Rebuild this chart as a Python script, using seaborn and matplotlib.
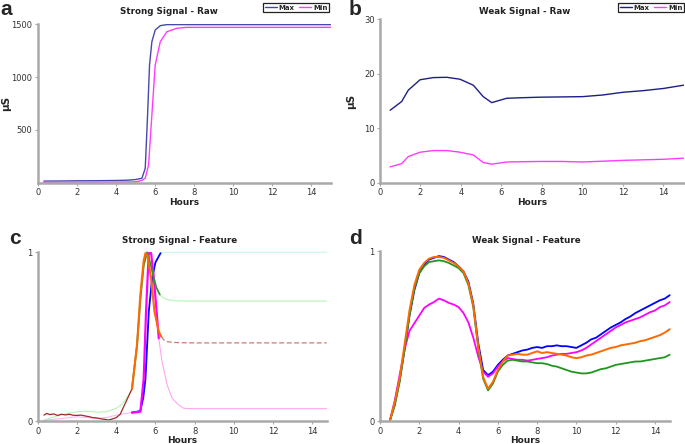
import matplotlib

matplotlib.use("Agg")
import matplotlib.pyplot as plt
import numpy as np
import seaborn as sns

# ---- panel a: strong signal, raw (uS) ----
A_MAX_HOURS = [0.3, 1.0, 2.0, 3.0, 4.0, 4.6, 5.0, 5.32, 5.49, 5.61, 5.71, 5.83,
               6.0, 6.26, 6.6, 8.0, 10.0, 12.0, 15.0]
A_MAX = [15, 16, 18, 19, 21, 24, 30, 42, 136, 641, 1115, 1335,
         1446, 1487, 1497, 1497, 1497, 1497, 1497]
A_MIN_HOURS = [0.3, 1.0, 2.0, 3.0, 4.0, 5.0, 5.3, 5.49, 5.66, 5.83, 6.0, 6.26,
               6.6, 7.1, 7.6, 9.0, 11.0, 13.0, 15.0]
A_MIN = [5, 5, 5, 5, 6, 8, 20, 42, 168, 641, 1115, 1335,
         1430, 1462, 1471, 1471, 1471, 1471, 1471]

# ---- panel b: weak signal, raw (uS) ----
B_HOURS = [0.5, 1.07, 1.4, 1.98, 2.64, 3.3, 3.95, 4.61, 5.1, 5.52, 6.26, 7.0,
           7.9, 9.0, 10.0, 11.0, 12.0, 13.0, 14.0, 15.0]
B_MAX = [13.3, 14.9, 17.0, 18.9, 19.3, 19.35, 19.0, 17.9, 15.8, 14.7, 15.5, 15.6,
         15.7, 15.75, 15.8, 16.1, 16.6, 16.9, 17.3, 17.9]
B_MIN = [2.9, 3.5, 4.8, 5.6, 5.9, 5.9, 5.6, 5.1, 3.7, 3.4, 3.8, 3.85,
         3.9, 3.9, 3.8, 3.95, 4.1, 4.2, 4.3, 4.5]

# ---- panel c: strong signal, feature (normalised) ----
C_PALE_GREEN_EARLY_H = [0.3, 0.7, 1.0, 1.5, 2.0, 2.5, 3.0, 3.5, 4.0, 4.3, 4.6, 4.8]
C_PALE_GREEN_EARLY = [0.005, 0.02, 0.03, 0.045, 0.055, 0.058, 0.052, 0.055, 0.075, 0.1, 0.15, 0.19]
C_PALE_GREEN_LATE_H = [6.22, 6.4, 6.6, 7.0, 8.0, 10.0, 12.0, 14.75]
C_PALE_GREEN_LATE = [0.75, 0.73, 0.72, 0.712, 0.711, 0.711, 0.711, 0.711]
C_PINK_EARLY_H = [0.3, 1.0, 2.0, 2.5, 3.0, 3.5, 4.0, 4.5, 4.8]
C_PINK_EARLY = [0.005, 0.012, 0.025, 0.02, 0.016, 0.02, 0.035, 0.045, 0.05]
C_PINK_LATE_H = [6.17, 6.34, 6.6, 6.85, 7.19, 7.45, 8.0, 10.0, 12.0, 14.75]
C_PINK_LATE = [0.49, 0.35, 0.213, 0.135, 0.095, 0.075, 0.073, 0.073, 0.073, 0.073]
C_CYAN_H = [6.26, 6.6, 8.0, 10.0, 12.0, 14.75]
C_CYAN = [0.995, 1.0, 1.0, 1.0, 1.0, 1.0]
C_BROWN_EARLY_H = [0.3, 0.45, 0.6, 0.8, 1.0, 1.2, 1.4, 1.6, 1.8, 2.0, 2.2, 2.4,
                   2.6, 2.8, 3.0, 3.2, 3.4, 3.6, 3.8, 4.0, 4.2, 4.4, 4.6, 4.8]
C_BROWN_EARLY = [0.035, 0.045, 0.038, 0.042, 0.033, 0.04, 0.036, 0.04, 0.034, 0.033, 0.035, 0.03,
                 0.026, 0.02, 0.018, 0.013, 0.01, 0.006, 0.012, 0.02, 0.04, 0.09, 0.14, 0.19]
C_BROWN_LATE_H = [6.3, 6.43, 6.6, 6.9, 7.3, 8.0, 10.0, 12.0, 14.75]
C_BROWN_LATE = [0.5, 0.48, 0.47, 0.466, 0.464, 0.463, 0.463, 0.463, 0.463]
C_BLUE_BASE_H = [5.55, 7.1]
C_BLUE_BASE = [0.0, 0.0]
C_BLUE_H = [4.8, 5.06, 5.23, 5.38, 5.49, 5.66, 5.83, 6.0, 6.26]
C_BLUE = [0.05, 0.055, 0.06, 0.14, 0.25, 0.648, 0.845, 0.94, 0.995]
C_MAGENTA_H = [4.8, 5.0, 5.23, 5.4, 5.52, 5.62, 5.66, 5.78, 5.92, 6.06, 6.17]
C_MAGENTA = [0.05, 0.052, 0.055, 0.25, 0.648, 0.9, 0.995, 0.995, 0.845, 0.648, 0.49]
C_GREEN_H = [4.8, 5.06, 5.23, 5.4, 5.57, 5.75, 5.92, 6.05, 6.22]
C_GREEN = [0.19, 0.45, 0.72, 0.92, 1.0, 0.93, 0.845, 0.79, 0.75]
C_ORANGE_H = [4.8, 5.06, 5.23, 5.4, 5.49, 5.6, 5.78, 5.95, 6.17, 6.3]
C_ORANGE = [0.19, 0.45, 0.75, 0.95, 0.995, 0.98, 0.845, 0.648, 0.53, 0.5]

# ---- panel d: weak signal, feature (sampled every 15 min from 0.5 h) ----
D_HOURS = np.arange(0.5, 14.76, 0.25)
D_BLUE = [0.00, 0.10, 0.24, 0.42, 0.62, 0.77, 0.87, 0.92,
          0.95, 0.96, 0.97, 0.965, 0.95, 0.935, 0.91, 0.88,
          0.82, 0.69, 0.46, 0.30, 0.27, 0.29, 0.33, 0.36,
          0.385, 0.395, 0.405, 0.415, 0.42, 0.43, 0.435, 0.43,
          0.44, 0.44, 0.445, 0.44, 0.44, 0.435, 0.43, 0.445,
          0.46, 0.48, 0.49, 0.51, 0.53, 0.55, 0.565, 0.58,
          0.60, 0.615, 0.635, 0.65, 0.665, 0.68, 0.695, 0.71,
          0.72, 0.74]
D_ORANGE = [0.00, 0.11, 0.25, 0.45, 0.65, 0.80, 0.89, 0.93,
            0.955, 0.965, 0.965, 0.96, 0.945, 0.93, 0.91, 0.88,
            0.81, 0.68, 0.44, 0.26, 0.19, 0.23, 0.30, 0.35,
            0.385, 0.39, 0.395, 0.39, 0.39, 0.40, 0.41, 0.40,
            0.405, 0.40, 0.395, 0.39, 0.385, 0.375, 0.37, 0.375,
            0.385, 0.39, 0.40, 0.41, 0.42, 0.43, 0.435, 0.445,
            0.45, 0.455, 0.46, 0.47, 0.475, 0.485, 0.495, 0.505,
            0.52, 0.54]
D_GREEN = [0.00, 0.09, 0.23, 0.42, 0.62, 0.78, 0.87, 0.91,
           0.935, 0.94, 0.945, 0.94, 0.93, 0.915, 0.90, 0.87,
           0.80, 0.67, 0.43, 0.25, 0.18, 0.22, 0.29, 0.33,
           0.355, 0.36, 0.355, 0.35, 0.35, 0.345, 0.34, 0.34,
           0.335, 0.325, 0.32, 0.31, 0.30, 0.29, 0.285, 0.28,
           0.28, 0.285, 0.295, 0.305, 0.31, 0.32, 0.33, 0.335,
           0.34, 0.345, 0.35, 0.35, 0.355, 0.36, 0.365, 0.37,
           0.375, 0.39]
D_MAGENTA = [0.00, 0.12, 0.27, 0.42, 0.53, 0.575, 0.62, 0.665,
             0.685, 0.70, 0.72, 0.71, 0.695, 0.685, 0.67, 0.635,
             0.58, 0.49, 0.38, 0.29, 0.26, 0.28, 0.32, 0.35,
             0.37, 0.365, 0.36, 0.36, 0.355, 0.36, 0.365, 0.37,
             0.375, 0.385, 0.39, 0.395, 0.395, 0.40, 0.405, 0.415,
             0.43, 0.45, 0.47, 0.49, 0.51, 0.53, 0.55, 0.565,
             0.58, 0.59, 0.60, 0.61, 0.625, 0.64, 0.65, 0.67,
             0.68, 0.70]

HOUR_TICKS = [0, 2, 4, 6, 8, 10, 12, 14]

sns.set_style("ticks")
plt.rcParams["font.family"] = ["DejaVu Sans"]

W, H = 685, 444
fig = plt.figure(figsize=(W / 100, H / 100), dpi=100)


def px_axes(left, top, right, bottom):
    return fig.add_axes([left / W, 1 - bottom / H, (right - left) / W, (bottom - top) / H])


def style(ax, xmax, ymax, yticks, xlabel_pad=0.5):
    ax.set_xlim(0, xmax)
    ax.set_ylim(0, ymax)
    ax.set_xticks(HOUR_TICKS)
    ax.set_yticks(yticks)
    sns.despine(ax=ax)
    for side in ("left", "bottom"):
        ax.spines[side].set_color("#a9a9a9")
        ax.spines[side].set_linewidth(1.8)
    ax.tick_params(colors="#a9a9a9", labelcolor="#333333", labelsize=6,
                   length=2.5, width=0.8, pad=1.5)
    ax.set_xlabel("Hours", fontsize=6.5, fontweight="bold", color="#222222",
                  labelpad=xlabel_pad)
    ax.grid(False)


def legend_box(ax, anchor):
    leg = ax.legend(loc="upper right", bbox_to_anchor=anchor, bbox_transform=fig.transFigure,
                    ncol=2, prop={"size": 5, "weight": "bold"}, frameon=True,
                    fancybox=False, framealpha=1, edgecolor="#222222",
                    handlelength=1.7, handletextpad=0.3, columnspacing=0.6,
                    borderpad=0.25, borderaxespad=0)
    leg.get_frame().set_linewidth(0.9)


def line(ax, x, y, color, lw=1.0, **kw):
    sns.lineplot(x=x, y=y, ax=ax, color=color, linewidth=lw, clip_on=False,
                 legend=False, **kw)


# panel a
ax_a = px_axes(38, 24.3, 331, 182.7)
sns.lineplot(x=A_MAX_HOURS, y=A_MAX, ax=ax_a, color="#4848aa", linewidth=1.0, label="Max")
sns.lineplot(x=A_MIN_HOURS, y=A_MIN, ax=ax_a, color="#ff3cff", linewidth=1.0, label="Min")
style(ax_a, 15, 1500, [500, 1000, 1500])
ax_a.set_ylabel("µS", fontsize=7.5, fontweight="bold")
ax_a.yaxis.set_label_coords(-0.092, 0.5)
legend_box(ax_a, (329 / W, 1 - 3 / H))

# panel b
ax_b = px_axes(380, 19.3, 683.6, 182.7)
sns.lineplot(x=B_HOURS, y=B_MAX, ax=ax_b, color="#1e1e88", linewidth=1.0, label="Max")
sns.lineplot(x=B_HOURS, y=B_MIN, ax=ax_b, color="#ff3cff", linewidth=1.0, label="Min")
style(ax_b, 15, 30, [0, 10, 20, 30])
ax_b.set_ylabel("µS", fontsize=7.5, fontweight="bold")
ax_b.yaxis.set_label_coords(-0.08, 0.5)
legend_box(ax_b, (684 / W, 1 - 3 / H))

# panel c
ax_c = px_axes(38, 252.3, 326.7, 421)
line(ax_c, C_PALE_GREEN_EARLY_H, C_PALE_GREEN_EARLY, "#b4f5b4", 0.8)
line(ax_c, C_PALE_GREEN_LATE_H, C_PALE_GREEN_LATE, "#b4f5b4", 0.8)
line(ax_c, C_CYAN_H, C_CYAN, "#c6f7ee", 0.8)
line(ax_c, C_PINK_EARLY_H, C_PINK_EARLY, "#ffb4f2", 0.8)
line(ax_c, C_PINK_LATE_H, C_PINK_LATE, "#ffa6f0", 0.8)
line(ax_c, C_BROWN_LATE_H, C_BROWN_LATE, "#c77a7a", 0.9, linestyle=(0, (4, 2)))
line(ax_c, C_BROWN_EARLY_H, C_BROWN_EARLY, "#a02828", 0.9)
line(ax_c, C_BLUE_BASE_H, C_BLUE_BASE, "#8080ff", 0.8)
line(ax_c, C_BLUE_H, C_BLUE, "#0000ff", 1.3)
line(ax_c, C_MAGENTA_H, C_MAGENTA, "#ff00ff", 1.6)
line(ax_c, C_GREEN_H, C_GREEN, "#2e9a2e", 1.3)
line(ax_c, C_ORANGE_H, C_ORANGE, "#ff6a00", 1.5)
style(ax_c, 14.75, 1, [0, 1], xlabel_pad=0)

# panel d
ax_d = px_axes(380, 251, 669.7, 421)
line(ax_d, D_HOURS, D_BLUE, "#0000ff", 1.3)
line(ax_d, D_HOURS, D_MAGENTA, "#ff00ff", 1.3)
line(ax_d, D_HOURS, D_GREEN, "#1f961f", 1.3)
line(ax_d, D_HOURS, D_ORANGE, "#ff6a00", 1.4)
style(ax_d, 14.75, 1, [0, 1], xlabel_pad=0)

# titles and panel letters
for x, y, txt in [(169, 11, "Strong Signal - Raw"), (525, 11, "Weak Signal - Raw"),
                  (180, 240, "Strong Signal - Feature"), (526, 240, "Weak Signal - Feature")]:
    fig.text(x / W, 1 - y / H, txt, ha="center", va="center", fontsize=6.3,
             fontweight="bold", color="#222222")

for x, y, txt in [(0, 15, "a"), (349, 15, "b"), (9, 243.5, "c"), (349, 244, "d")]:
    fig.text(x / W, 1 - y / H, txt, ha="left", va="baseline", fontsize=15,
             fontweight="bold", family=["Liberation Sans", "DejaVu Sans"])

fig.savefig("out.png", dpi=100)
